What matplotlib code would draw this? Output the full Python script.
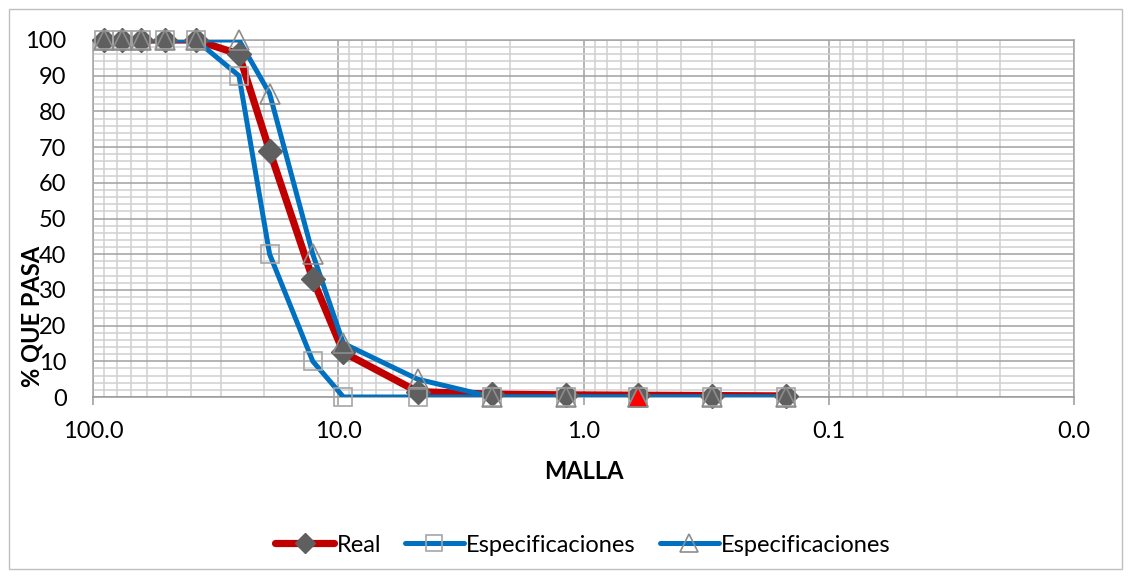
import matplotlib
matplotlib.use("Agg")
import matplotlib.pyplot as plt
from matplotlib.lines import Line2D
from matplotlib.patches import Rectangle
from matplotlib.ticker import LogLocator, MultipleLocator, FuncFormatter, NullFormatter

plt.rcParams['font.family'] = ['Lato', 'DejaVu Sans']

# sieve openings (mm) and % passing
malla = [90, 76.2, 63.5, 50.8, 38.1, 25.4, 19.05, 12.7, 9.525, 4.75, 2.36, 1.18, 0.6, 0.3, 0.15]
real = [100, 100, 100, 100, 100, 96, 69, 33, 12.5, 1.5, 0.8, 0.6, 0.5, 0.4, 0.3]
esp_inf = [100, 100, 100, 100, 100, 90, 40, 10, 0, 0, 0, 0, 0, 0, 0]
esp_sup = [100, 100, 100, 100, 100, 100, 85, 40, 15, 5, 0, 0, 0, 0, 0]
y_ticks = [0, 10, 20, 30, 40, 50, 60, 70, 80, 90, 100]
x_ticks = [100, 10, 1, 0.1, 0.01]

RED = "#C00000"
BLUE = "#0070C0"
GRAY = "#5f5f5f"
EDGE = "#a6a6a6"
FS = 17

fig = plt.figure(figsize=(11.31, 5.78), dpi=100)
ax = fig.add_axes([93 / 1131, 1 - 397 / 578, (1074 - 93) / 1131, 357 / 578])

# chart border
fig.patches.append(Rectangle((9 / 1131, 9 / 578), 1113 / 1131, 560 / 578,
                             transform=fig.transFigure, fill=False,
                             edgecolor="#bfbfbf", lw=1))

# lines first, then markers on top (like Excel)
ax.plot(malla, real, color=RED, lw=5.2, zorder=3, solid_capstyle="round", solid_joinstyle="round")
ax.plot(malla, esp_inf, color=BLUE, lw=3.6, zorder=3, solid_joinstyle="round")
ax.plot(malla, esp_sup, color=BLUE, lw=3.6, zorder=3, solid_joinstyle="round")

ax.plot(malla, real, ls="none", marker="D", ms=12, mfc=GRAY, mec=GRAY, zorder=4, clip_on=False)
ax.plot(malla, esp_inf, ls="none", marker="s", ms=13, mfc="none", mec=EDGE, mew=1.2, zorder=5, clip_on=False)
ax.plot(malla, esp_sup, ls="none", marker="^", ms=14, mfc="none", mec="#8c8c8c", mew=1.2, zorder=5, clip_on=False)
# one highlighted point
ax.plot(malla[12], esp_sup[12], ls="none", marker="^", ms=14, mfc="#FF0000", mec="#8c8c8c", mew=1.2, zorder=6, clip_on=False)

ax.set_xscale("log")
ax.set_xlim(100, 0.01)
ax.set_ylim(0, 100)

ax.xaxis.set_major_locator(LogLocator(base=10, numticks=10))
ax.xaxis.set_minor_locator(LogLocator(base=10, subs=range(2, 10), numticks=100))
ax.xaxis.set_major_formatter(FuncFormatter(lambda v, p: f"{v:.1f}"))
ax.xaxis.set_minor_formatter(NullFormatter())
ax.set_xticks(x_ticks)
ax.set_yticks(y_ticks)
ax.yaxis.set_minor_locator(MultipleLocator(2))

ax.grid(True, which="major", color="#a0a0a0", lw=1.1, zorder=0)
ax.grid(True, which="minor", color="#d0d0d0", lw=1.1, zorder=0)
ax.set_axisbelow(True)

for s in ax.spines.values():
    s.set_color(EDGE)
    s.set_linewidth(1.1)
ax.spines["bottom"].set_color("#999999")

ax.tick_params(axis="x", which="major", length=6, width=1.1, color="#999999", pad=11, labelsize=FS)
ax.tick_params(axis="x", which="minor", length=0)
ax.tick_params(axis="y", which="both", length=0, pad=19, labelsize=FS)

ax.set_xlabel("MALLA", fontsize=FS, fontweight="bold", va="center")
ax.xaxis.set_label_coords(0.5, -0.21)
ax.set_ylabel("% QUE PASA", fontsize=FS, fontweight="bold", va="center")
ax.yaxis.set_label_coords(-0.062, 0.225)

handles = [
    Line2D([], [], color=RED, lw=5.2, solid_capstyle="round", marker="D", ms=10, mfc=GRAY, mec=GRAY),
    Line2D([], [], color=BLUE, lw=3.6, solid_capstyle="round", marker="s", ms=12, mfc="none", mec=EDGE, mew=1.2),
    Line2D([], [], color=BLUE, lw=3.6, solid_capstyle="round", marker="^", ms=13, mfc="none", mec="#8c8c8c", mew=1.2),
]
fig.legend(handles, ["Real", "Especificaciones", "Especificaciones"],
           loc="center", bbox_to_anchor=(583 / 1131, 1 - 545 / 578),
           ncol=3, frameon=False, fontsize=FS, handlelength=2.5,
           handletextpad=0.1, columnspacing=1.0, numpoints=1)

fig.savefig("out.png", dpi=100)
